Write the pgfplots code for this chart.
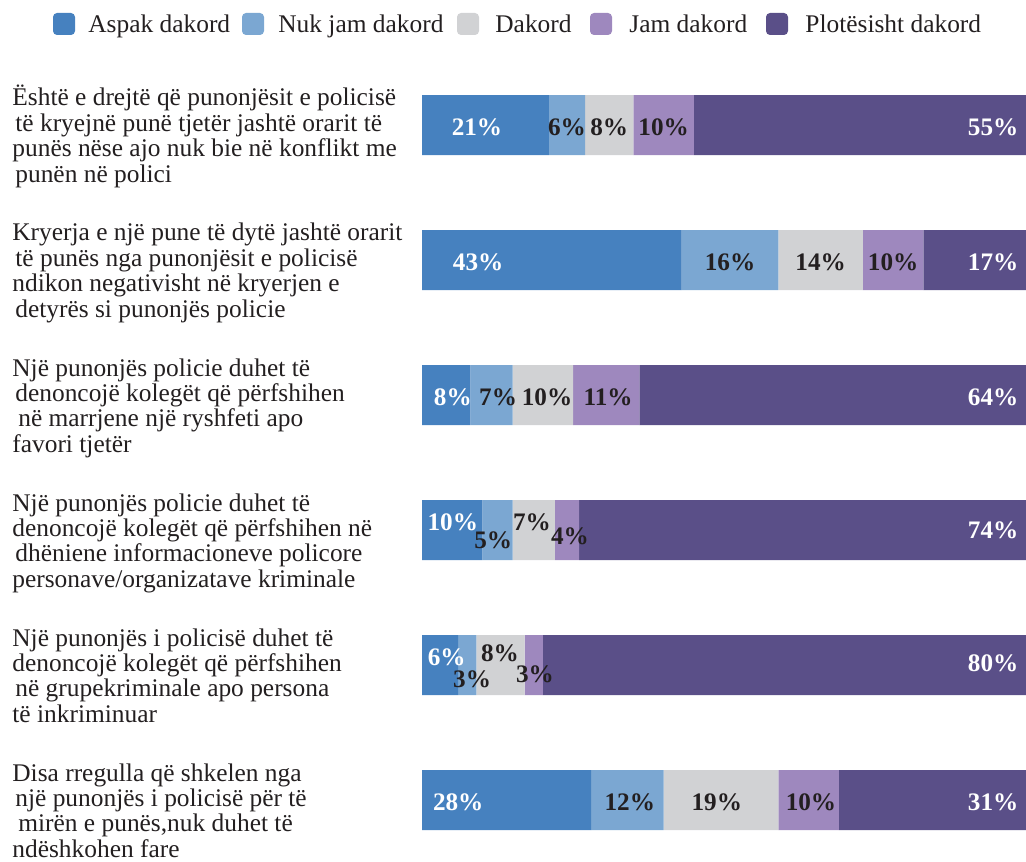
\documentclass[border=0pt]{standalone}
\usepackage{pgfplots}
\usepackage{pgfplotstable}
\pgfplotsset{compat=1.18}
\usepackage{fontspec}
\setmainfont{Liberation Serif}
\definecolor{cA}{HTML}{4681BF}
\definecolor{cB}{HTML}{7BA7D2}
\definecolor{cC}{HTML}{D1D2D4}
\definecolor{cD}{HTML}{9E88BE}
\definecolor{cE}{HTML}{5A4F88}
\definecolor{txt}{HTML}{231F20}

\pgfplotstableread{
y aspak nuk dakord jam plot
125 21 6 8 10 55
260 43 16 14 10 17
395 8 7 10 11 64
530 10 5 7 4 74
665 6 3 8 3 80
800 28 12 19 10 31
}\data

\newcommand{\catfont}{\fontsize{12.7pt}{12.7pt}\selectfont}
\newcommand{\legfont}{\fontsize{12.7pt}{12.7pt}\selectfont}
\newcommand{\pctfont}{\bfseries\fontsize{12.6pt}{12.6pt}\selectfont}
\tikzset{
  lw/.style={font=\pctfont, text=white, inner sep=0pt},
  ld/.style={font=\pctfont, text=txt, inner sep=0pt},
  le/.style={font=\pctfont, text=white, inner sep=0pt, anchor=east},
}
% baseline of first line, then four lines
\newcommand{\cat}[5]{%
  \node[anchor=base west, inner sep=0pt, text=txt, font=\catfont] at (12,#1) {#2};
  \node[anchor=base west, inner sep=0pt, text=txt, font=\catfont] at (12,#1+25.4) {#3};
  \node[anchor=base west, inner sep=0pt, text=txt, font=\catfont] at (12,#1+50.8) {#4};
  \node[anchor=base west, inner sep=0pt, text=txt, font=\catfont] at (12,#1+76.2) {#5};
}
\newcommand{\leg}[4]{%
  \fill[#1, rounded corners=2pt] (#2,13) rectangle (#2+22,35);
  \node[anchor=base west, inner sep=0pt, text=txt, font=\legfont] at (#3,33) {#4};
}
\newcommand{\pctlabels}{%
% row 1
\node[lw] at (axis cs:9.1,127) {21\%};
\node[ld] at (axis cs:24,127) {6\%};
\node[ld] at (axis cs:31,127) {8\%};
\node[ld] at (axis cs:40,127) {10\%};
\node[le] at (axis cs:98.8,127) {55\%};
% row 2
\node[lw] at (axis cs:9.3,262) {43\%};
\node[ld] at (axis cs:51,262) {16\%};
\node[ld] at (axis cs:66,262) {14\%};
\node[ld] at (axis cs:78,262) {10\%};
\node[le] at (axis cs:98.8,262) {17\%};
% row 3
\node[lw] at (axis cs:5.1,397) {8\%};
\node[ld] at (axis cs:12.6,397) {7\%};
\node[ld] at (axis cs:20.7,397) {10\%};
\node[ld] at (axis cs:30.8,397) {11\%};
\node[le] at (axis cs:98.8,397) {64\%};
% row 4
\node[lw] at (axis cs:5.1,522) {10\%};
\node[ld] at (axis cs:11.8,540) {5\%};
\node[ld] at (axis cs:18.2,522) {7\%};
\node[ld] at (axis cs:24.5,536) {4\%};
\node[le] at (axis cs:98.8,530) {74\%};
% row 5
\node[lw] at (axis cs:4.1,657) {6\%};
\node[ld] at (axis cs:8.3,679) {3\%};
\node[ld] at (axis cs:12.9,653) {8\%};
\node[ld] at (axis cs:18.7,674) {3\%};
\node[le] at (axis cs:98.8,663) {80\%};
% row 6
\node[lw] at (axis cs:6.0,802) {28\%};
\node[ld] at (axis cs:34.4,802) {12\%};
\node[ld] at (axis cs:48.8,802) {19\%};
\node[ld] at (axis cs:64.4,802) {10\%};
\node[le] at (axis cs:98.8,802) {31\%};
}

\begin{document}
\begin{tikzpicture}
\begin{scope}[x=0.5pt, y=-0.5pt]
  \path[use as bounding box] (0,0) rectangle (1026,861);
  \leg{cA}{53}{88}{Aspak dakord}
  \leg{cB}{242}{278}{Nuk jam dakord}
  \leg{cC}{457}{495}{Dakord}
  \leg{cD}{590}{629}{Jam dakord}
  \leg{cE}{766}{805}{Plotësisht dakord}
  \cat{106}{Është e drejtë që punonjësit e policisë}{\hspace{1.5pt}të kryejnë punë tjetër jashtë orarit të}{punës nëse ajo nuk bie në konflikt me}{\hspace{1.5pt}punën në polici}
  \cat{241}{Kryerja e një pune të dytë jashtë orarit}{\hspace{1.5pt}të punës nga punonjësit e policisë}{ndikon negativisht në kryerjen e}{\hspace{1.5pt}detyrës si punonjës policie}
  \cat{376}{Një punonjës policie duhet të}{\hspace{1.5pt}denoncojë kolegët që përfshihen}{\hspace{3pt}në marrjene një ryshfeti apo}{favori tjetër}
  \cat{511}{Një punonjës policie duhet të}{denoncojë kolegët që përfshihen në}{\hspace{1.5pt}dhëniene informacioneve policore}{personave/organizatave kriminale}
  \cat{646}{Një punonjës i policisë duhet të}{denoncojë kolegët që përfshihen}{\hspace{1.5pt}në grupekriminale apo persona}{të inkriminuar}
  \cat{781}{Disa rregulla që shkelen nga}{\hspace{1.5pt}një punonjës i policisë për të}{\hspace{3pt}mirën e punës,nuk duhet të}{ndëshkohen fare}
\end{scope}
\begin{axis}[
  at={(211pt,0pt)}, anchor=north west,
  scale only axis, width=302pt, height=430.5pt,
  xmin=0, xmax=100, ymin=0, ymax=861, y dir=reverse,
  hide axis, clip=false,
  xbar stacked, bar width=30pt,
  after end axis/.code={\pctlabels},
]
\addplot[fill=cA, draw=none] table[x=aspak, y=y] {\data};
\addplot[fill=cB, draw=none] table[x=nuk, y=y] {\data};
\addplot[fill=cC, draw=none] table[x=dakord, y=y] {\data};
\addplot[fill=cD, draw=none] table[x=jam, y=y] {\data};
\addplot[fill=cE, draw=none] table[x=plot, y=y] {\data};
\end{axis}
\end{tikzpicture}
\end{document}
